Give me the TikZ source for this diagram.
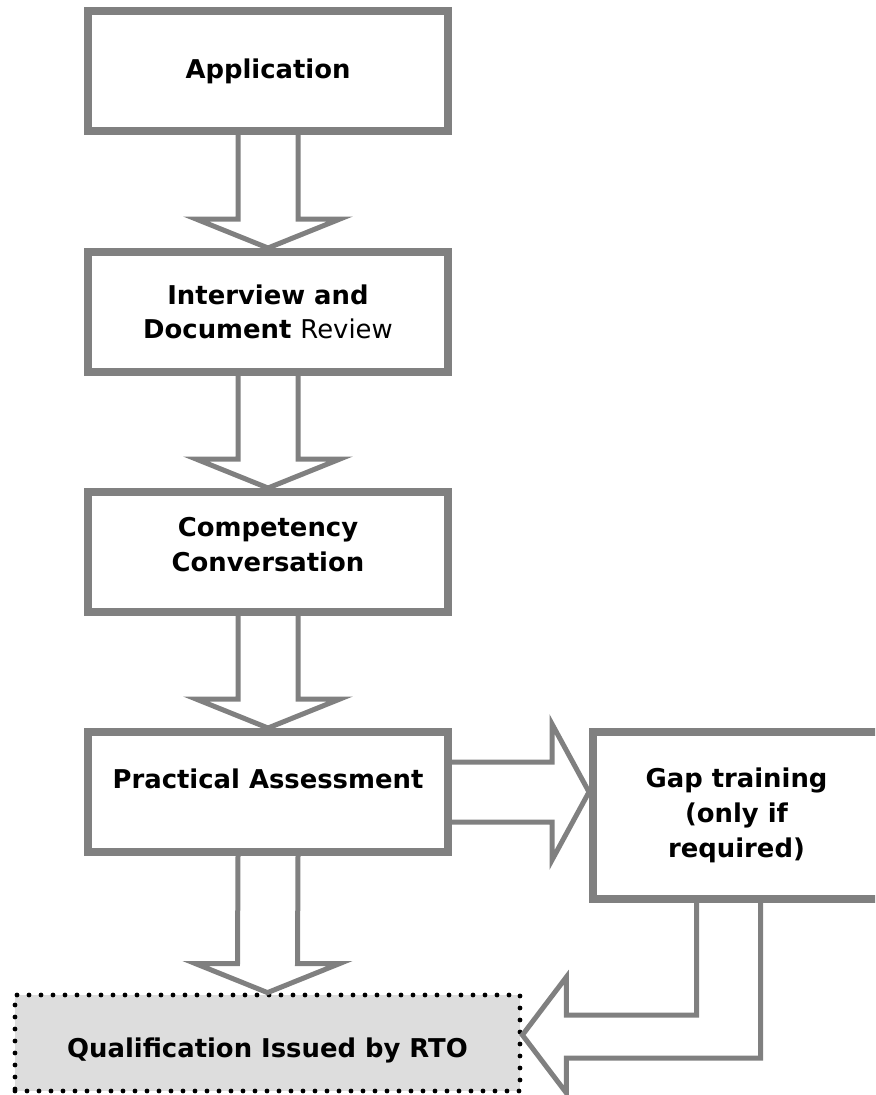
\documentclass[tikz,border=0pt]{standalone}
\usepackage{fontspec}
\setmainfont{DejaVu Sans}
\usepackage{xcolor}
\usetikzlibrary{calc, positioning}
\definecolor{qualgray}{HTML}{DDDDDD}

\begin{document}
\begin{tikzpicture}[x=0.75pt, y=-0.75pt,
        box/.style={draw=gray, line width=6pt, fill=white, minimum width=270pt, minimum height=90pt,
            inner sep=0pt, align=center, font=\fontsize{19.4}{26}\selectfont\bfseries},
        qualbox/.style={box, draw=black, fill=qualgray, line width=3.6pt, dash pattern=on 0pt off 9pt,
            line cap=round, minimum width=378.75pt, minimum height=72pt},
        flow/.style={draw=gray, line width=3.75pt},
        ]
        \clip (0,0) rectangle (875,1095);

        % 方框
        \node[box] (app) at (268,71) {Application};
        \node[box] (intv) at (268,312) {Interview and\\Document {\mdseries Review}};
        \node[box, text height=28.5pt, text depth=0pt] (comp) at (268,552) {Competency\\Conversation};
        \node[box, text height=0pt, text depth=6pt] (prac) at (268,792) {Practical Assessment};
        \node[box, minimum width=215.25pt, minimum height=125.25pt] (gap) at (736.5,815.5) {Gap training\\(only if\\required)};
        \node[qualbox, text height=21pt, text depth=0pt] (qual) at (267.5,1043) {Qualification Issued by RTO};

        % 箭头
        \foreach \a/\b in {app/intv, intv/comp, comp/prac, prac/qual}
            \draw[flow] ($(\a.south)+(-30,0)$) -- ($(\b.north)+(-30,-29)$) -- ($(\b.north)+(-72,-29)$)
                -- (\b.north) -- ($(\b.north)+(72,-29)$) -- ($(\b.north)+(30,-29)$) -- ($(\a.south)+(30,0)$);

        \coordinate (gaptip) at (prac.east -| gap.west);
        \draw[flow] ($(prac.east)+(0,-30)$) -- ($(gaptip)+(-37,-30)$) -- ($(gaptip)+(-37,-68)$)
            -- (gaptip) -- ($(gaptip)+(-37,68)$) -- ($(gaptip)+(-37,30)$) -- ($(prac.east)+(0,30)$);

        \coordinate (qualtip) at ($(qual.east)+(0,-8)$);
        \draw[flow] ($(gap.south)+(-40,0)$) |- ($(qualtip)+(44,-20)$) -- ($(qualtip)+(44,-58)$)
            -- (qualtip) -- ($(qualtip)+(44,58)$) -- ($(qualtip)+(44,23)$) -| ($(gap.south)+(24,0)$);

\end{tikzpicture}
\end{document}
